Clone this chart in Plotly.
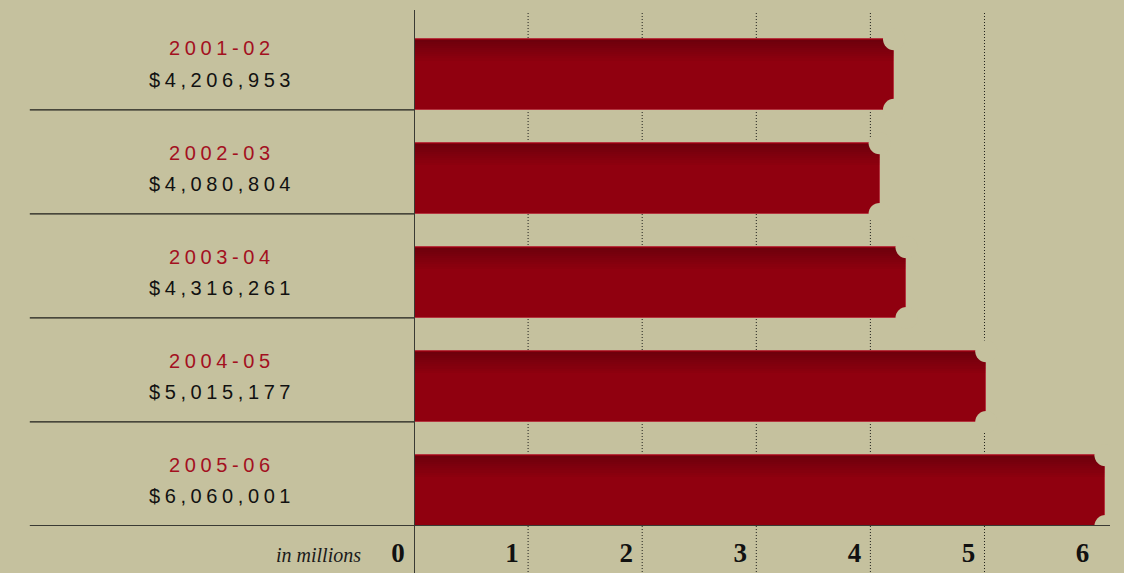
import plotly.graph_objects as go

years = ["2001-02", "2002-03", "2003-04", "2004-05", "2005-06"]
amounts = [4206953, 4080804, 4316261, 5015177, 6060001]
tick_vals = [0, 1, 2, 3, 4, 5, 6]
tick_text = ["0", "1", "2", "3", "4", "5", "6"]

values_m = [a / 1e6 for a in amounts]
rows = list(range(1, len(years) + 1))  # bottom edge of each row (reversed axis)

BG = "#c5c19e"
AX = "#3a3a34"
BAR_W = 0.68

fig = go.Figure()
fig.add_trace(go.Bar(
    x=values_m, y=rows, orientation="h",
    width=BAR_W, offset=-BAR_W,
    marker=dict(color="#90000f", line=dict(color="#b3343e", width=1)),
    hoverinfo="skip",
))
# darker shading along the top of each bar (stepped gradient)
steps = 10
for k in range(steps):
    fig.add_trace(go.Bar(
        x=values_m, y=rows, orientation="h",
        width=0.02, offset=-BAR_W + 0.006 + k * 0.02,
        marker=dict(color=f"rgba(55,0,8,{0.38 * (1 - k / steps):.3f})", line=dict(width=0)),
        hoverinfo="skip",
    ))
# notched corners at bar ends
notch_x = [v for v in values_m for _ in range(2)]
notch_y = [y for r in rows for y in (r - BAR_W, r)]
fig.add_trace(go.Scatter(
    x=notch_x, y=notch_y, mode="markers",
    marker=dict(symbol="circle", size=22, color=BG, line=dict(width=0)),
    hoverinfo="skip",
))

shapes = []
# dotted gridlines
for v in tick_vals[1:-1]:
    shapes.append(dict(type="line", xref="x", yref="paper", x0=v, x1=v,
                       y0=-0.095, y1=0.998, line=dict(color="#1e1e1a", width=1, dash="1px,2px"),
                       layer="below"))
# y-axis line
shapes.append(dict(type="line", xref="x", yref="paper", x0=0, x1=0, y0=-0.1, y1=1,
                   line=dict(color=AX, width=2)))
# row separators
for r in rows[:-1]:
    shapes.append(dict(type="line", xref="paper", yref="y", x0=-0.552, x1=0, y0=r, y1=r,
                       line=dict(color="#1e1e1a", width=1.2)))
# bottom axis line
shapes.append(dict(type="line", xref="paper", yref="y", x0=-0.552, x1=1, y0=rows[-1], y1=rows[-1],
                   line=dict(color=AX, width=2)))

annotations = []
for i, (yr, amt) in enumerate(zip(years, amounts)):
    annotations.append(dict(
        x=-0.276, xref="paper", y=i + 0.41, yref="y", xanchor="center", yanchor="middle",
        text=f'<span style="letter-spacing:4.6px">{yr}</span>', showarrow=False,
        font=dict(family="Liberation Sans", size=20, color="#a3101f")))
    annotations.append(dict(
        x=-0.276, xref="paper", y=i + 0.71, yref="y", xanchor="center", yanchor="middle",
        text=f'<span style="letter-spacing:4.6px">${amt:,}</span>', showarrow=False,
        font=dict(family="Liberation Sans", size=20, color="#111111")))
annotations.append(dict(
    x=-0.137, xref="paper", y=-0.057, yref="paper", xanchor="center", yanchor="middle",
    text="<i>in millions</i>", showarrow=False,
    font=dict(family="Liberation Serif", size=20, color="#1a1a1a")))

fig.update_layout(
    width=1124, height=573,
    margin=dict(l=414, r=14, t=10, b=47),
    paper_bgcolor=BG, plot_bgcolor=BG,
    showlegend=False, barmode="overlay", bargap=0,
    shapes=shapes, annotations=annotations,
    xaxis=dict(range=[0, 6.1], tickvals=tick_vals, ticktext=tick_text,
               showgrid=False, zeroline=False, showline=False, ticks="",
               ticklabelshift=-16, ticklabelstandoff=8, automargin=False,
               tickfont=dict(family="Liberation Serif", size=27, color="#111111", weight="bold"),
               fixedrange=True),
    yaxis=dict(range=[5, 0.04], showgrid=False, zeroline=False, showline=False,
               showticklabels=False, ticks="", automargin=False, fixedrange=True),
)

fig.write_html("out.html")
